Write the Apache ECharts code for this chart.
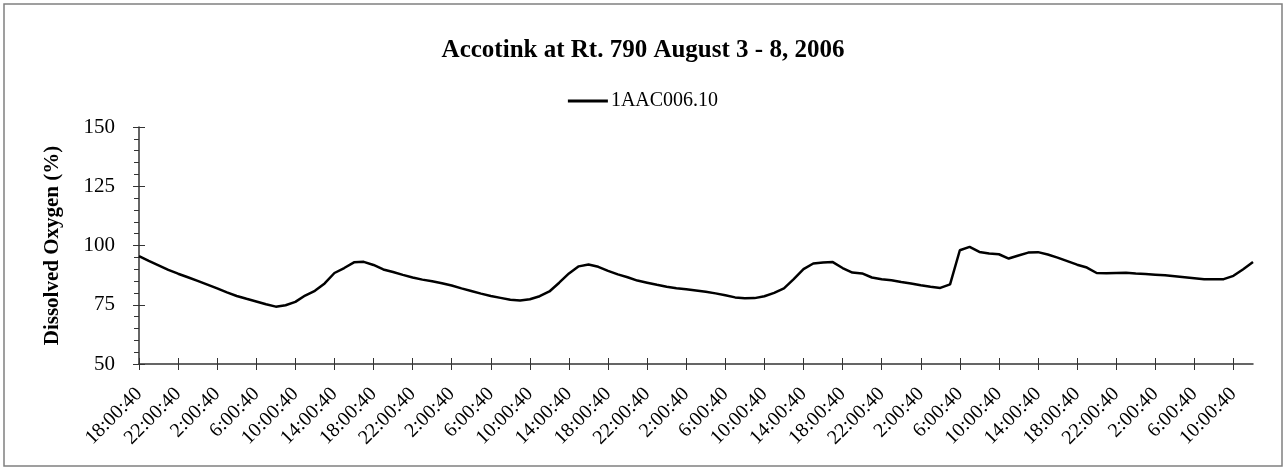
<!DOCTYPE html>
<html>
<head>
<meta charset="utf-8">
<script src="https://cdn.jsdelivr.net/npm/echarts@6/dist/echarts.min.js"></script>
<style>
  html, body { margin: 0; padding: 0; background: #fff; }
  #chart { width: 1286px; height: 470px; }
</style>
</head>
<body>
<div id="chart"></div>
<script>
// hourly readings, Aug 3 18:00:40 -> Aug 8 12:00:40
var aug3 = [95.5, 93.5, 91.6, 89.7, 88.1, 86.6];
var aug4 = [85.1, 83.5, 81.9, 80.2, 78.7, 77.5, 76.4, 75.2, 74.2, 74.8, 76.2, 78.9,
            80.9, 84.0, 88.4, 90.5, 92.9, 93.1, 91.8, 89.9, 88.8, 87.6, 86.5, 85.6];
var aug5 = [84.9, 84.1, 83.1, 81.9, 80.8, 79.7, 78.7, 77.9, 77.1, 76.8, 77.3, 78.6,
            80.6, 84.3, 88.2, 91.2, 92.0, 91.0, 89.3, 87.8, 86.6, 85.2, 84.3, 83.4];
var aug6 = [82.6, 82.0, 81.5, 81.0, 80.5, 79.8, 79.0, 78.1, 77.7, 77.8, 78.6, 80.0,
            81.9, 85.8, 90.0, 92.4, 92.8, 93.0, 90.5, 88.6, 88.2, 86.5, 85.8, 85.3];
var aug7 = [84.6, 84.0, 83.2, 82.6, 82.1, 83.6, 98.0, 99.4, 97.3, 96.6, 96.3, 94.5,
            95.8, 97.0, 97.2, 96.2, 94.9, 93.4, 91.9, 90.7, 88.4, 88.3, 88.4, 88.5];
var aug8 = [88.2, 88.0, 87.7, 87.4, 87.0, 86.6, 86.2, 85.8, 85.8, 85.8, 87.2, 90.0, 93.0];

var doValues = aug3.concat(aug4, aug5, aug6, aug7, aug8);

var startHour = 18;
var times = [];
for (var i = 0; i < doValues.length; i++) {
    times.push(((startHour + i) % 24) + ':00:40');
}

var serif = '"Liberation Serif", "Times New Roman", serif';
var axisColor = '#333';

var chart = echarts.init(document.getElementById('chart'));
var option = {
    backgroundColor: '#fff',
    animation: false,
    textStyle: { fontFamily: serif },
    title: {
        text: 'Accotink at Rt. 790 August 3 - 8, 2006',
        left: 'center',
        top: 33,
        textStyle: { fontFamily: serif, fontSize: 25, fontWeight: 'bold', color: '#000' }
    },
    legend: {
        data: ['1AAC006.10'],
        left: 'center',
        top: 86,
        icon: 'rect',
        itemWidth: 40,
        itemHeight: 3,
        itemGap: 4,
        textStyle: { fontFamily: serif, fontSize: 20, color: '#000', padding: [0, 0, 0, -2] }
    },
    grid: { left: 139, right: 33, top: 127, bottom: 106 },
    xAxis: [{
        type: 'category',
        data: times,
        boundaryGap: false,
        axisLine: { lineStyle: { color: axisColor, width: 1.5 } },
        axisTick: { interval: 3, length: 6, lineStyle: { color: axisColor } },
        axisLabel: {
            interval: 3, rotate: 45, margin: 27,
            fontFamily: serif, fontSize: 20, color: '#000'
        },
        splitLine: { show: false }
    }, {
        type: 'category',
        data: times,
        boundaryGap: false,
        position: 'bottom',
        axisLine: { show: false },
        axisTick: { interval: 3, inside: true, length: 6, lineStyle: { color: axisColor } },
        axisLabel: { show: false },
        splitLine: { show: false }
    }],
    yAxis: [{
        type: 'value',
        name: 'Dissolved Oxygen (%)',
        nameLocation: 'middle',
        nameGap: 76,
        nameTextStyle: { fontFamily: serif, fontSize: 21, fontWeight: 'bold', color: '#000' },
        min: 50, max: 150, interval: 25,
        axisLine: { show: true, lineStyle: { color: axisColor, width: 1.5 } },
        axisTick: { show: true, length: 6, lineStyle: { color: axisColor } },
        minorTick: { show: true, splitNumber: 5, length: 5, lineStyle: { color: axisColor } },
        axisLabel: { margin: 24, fontFamily: serif, fontSize: 21, color: '#000' },
        splitLine: { show: false }
    }, {
        type: 'value',
        position: 'left',
        min: 50, max: 150, interval: 25,
        axisLine: { show: false },
        axisTick: { show: true, inside: true, length: 6, lineStyle: { color: axisColor } },
        axisLabel: { show: false },
        splitLine: { show: false }
    }],
    series: [{
        name: '1AAC006.10',
        type: 'line',
        data: doValues,
        symbol: 'none',
        lineStyle: { color: '#000', width: 2.5 },
        itemStyle: { color: '#000' }
    }],
    graphic: [{
        type: 'rect',
        shape: { x: 4, y: 4, width: 1278, height: 462 },
        style: { fill: 'none', stroke: '#808080', lineWidth: 1.5 },
        silent: true
    }]
};
chart.setOption(option);
</script>
</body>
</html>
